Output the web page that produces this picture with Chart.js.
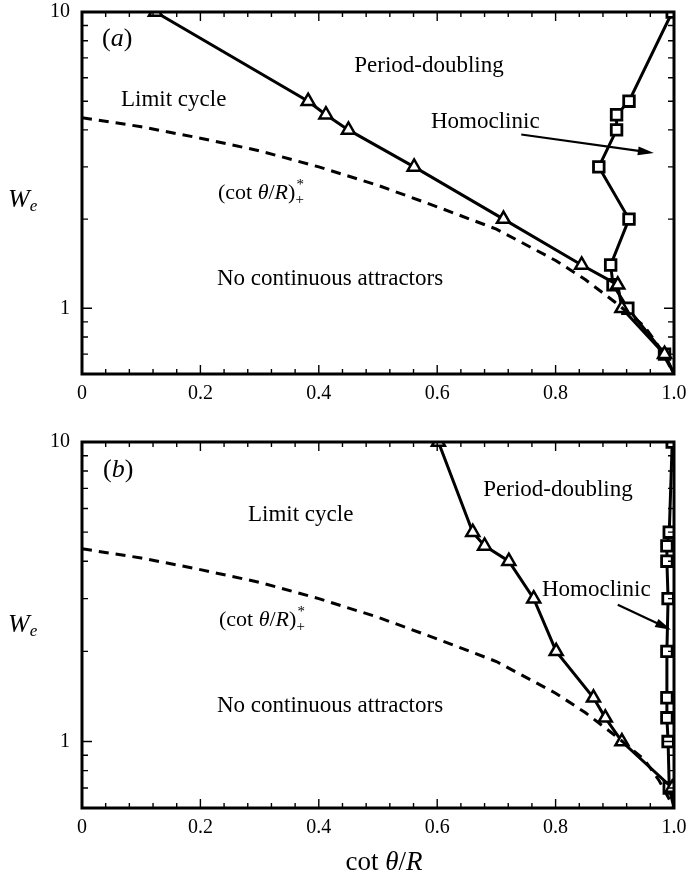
<!DOCTYPE html>
<html>
<head>
<meta charset="utf-8">
<script src="https://cdn.jsdelivr.net/npm/chart.js@4.4.0/dist/chart.umd.min.js"></script>
<style>
  html, body { margin: 0; padding: 0; background: #fff; }
  #wrap { position: relative; width: 691px; height: 874px; }
  .panel { position: absolute; left: 0; }
</style>
</head>
<body>
<div id="wrap">
  <canvas id="chartA" class="panel" width="691" height="420" style="top:0"></canvas>
  <canvas id="chartB" class="panel" width="691" height="454" style="top:420px"></canvas>
</div>
<script>
// W_e levels used in both panels (log axis)
const weLevels = [10, 5, 4.5, 4, 3, 2, 1.4, 1.2, 1, 0.7];

// panel (a): cot(theta)/R of each boundary point
const triXA = [0.124, 0.382, 0.412, 0.45, 0.561, 0.712, 0.844, 0.905, 0.912, 0.984];
const sqXA  = [0.997, 0.924, 0.903, 0.903, 0.873, 0.924, 0.893, 0.897, 0.922, 0.984];

// panel (b)
const triXB = [0.602, 0.66, 0.68, 0.721, 0.763, 0.801, 0.864, 0.884, 0.912, 0.997];
const sqXB  = [0.997, 0.992, 0.988, 0.988, 0.99, 0.988, 0.988, 0.988, 0.99, 0.992];

// both boundary lines run into the lower right corner
const cornerX = 1.0;
const cornerY = 0.6;

// dashed curve (cot theta/R)*_+
const dashX = [0, 0.1, 0.2, 0.3, 0.4, 0.5, 0.6, 0.7, 0.8, 0.85, 0.9, 0.95, 0.975, 1.0];
const dashY = [4.4, 4.1, 3.75, 3.4, 3.0, 2.6, 2.2, 1.85, 1.45, 1.25, 1.05, 0.87, 0.74, 0.6];

// axis ticks
const xTickVals = [];
for (let i = 0; i <= 25; i++) xTickVals.push(+(i * 0.04).toFixed(2));
const xLabelVals = [0, 0.2, 0.4, 0.6, 0.8, 1.0];
const yTickVals = [0.7, 0.8, 0.9, 1, 2, 3, 4, 5, 6, 7, 8, 9, 10];
const yLabelVals = [1, 10];

// "Homoclinic" arrows (data coords: from -> to)
const arrowA = [0.742, 3.86, 0.966, 3.34];
const arrowB = [0.905, 2.86, 0.995, 2.36];

const SERIF = '"Liberation Serif", "Times New Roman", serif';

function pts(xs, ys) {
  const out = xs.map((x, i) => ({ x: x, y: ys[i] }));
  out.push({ x: cornerX, y: cornerY });
  return out;
}

function fontOf(p, base) {
  return (p.it ? 'italic ' : '') + (p.s || base) + 'px ' + SERIF;
}

function drawRich(ctx, x, y, parts, base, align) {
  let w = 0;
  parts.forEach(p => {
    ctx.font = fontOf(p, base);
    if (!p.stack) w += ctx.measureText(p.t).width;
  });
  let cx = align === 'center' ? x - w / 2 : x;
  ctx.textAlign = 'left';
  ctx.textBaseline = 'middle';
  parts.forEach(p => {
    ctx.font = fontOf(p, base);
    ctx.fillText(p.t, cx + (p.dx || 0), y + (p.dy || 0));
    if (!p.stack) cx += ctx.measureText(p.t).width;
  });
}

const cotLabel = [
  { t: '(cot ' }, { t: 'θ', it: true }, { t: '/' }, { t: 'R', it: true }, { t: ')' },
  { t: '*', s: 15, dy: -8, stack: true, dx: 1 }, { t: '+', s: 15, dy: 7 }
];
const weLabel = [{ t: 'W', it: true, s: 26 }, { t: 'e', it: true, s: 17, dy: 7 }];

// frame, inward ticks, arrow and text labels
const decorPlugin = {
  id: 'decor',
  afterDraw(chart, args, opts) {
    const ctx = chart.ctx;
    const a = chart.chartArea;
    const xs = chart.scales.x, ys = chart.scales.y;
    ctx.save();
    ctx.strokeStyle = '#000';
    ctx.fillStyle = '#000';

    ctx.lineWidth = 1.4;
    xTickVals.forEach(v => {
      const px = xs.getPixelForValue(v);
      const len = xLabelVals.includes(v) ? 9 : 5;
      ctx.beginPath();
      ctx.moveTo(px, a.bottom); ctx.lineTo(px, a.bottom - len);
      ctx.moveTo(px, a.top); ctx.lineTo(px, a.top + len);
      ctx.stroke();
    });
    yTickVals.forEach(v => {
      const py = ys.getPixelForValue(v);
      const len = yLabelVals.includes(v) ? 10 : 6;
      ctx.beginPath();
      ctx.moveTo(a.left, py); ctx.lineTo(a.left + len, py);
      ctx.moveTo(a.right, py); ctx.lineTo(a.right - len, py);
      ctx.stroke();
    });

    ctx.lineWidth = 3;
    ctx.strokeRect(a.left, a.top, a.right - a.left, a.bottom - a.top);

    // arrow
    const ar = opts.arrow;
    const x1 = xs.getPixelForValue(ar[0]), y1 = ys.getPixelForValue(ar[1]);
    const x2 = xs.getPixelForValue(ar[2]), y2 = ys.getPixelForValue(ar[3]);
    const ang = Math.atan2(y2 - y1, x2 - x1);
    ctx.lineWidth = 2.2;
    ctx.beginPath();
    ctx.moveTo(x1, y1);
    ctx.lineTo(x2 - 10 * Math.cos(ang), y2 - 10 * Math.sin(ang));
    ctx.stroke();
    ctx.beginPath();
    ctx.moveTo(x2, y2);
    ctx.lineTo(x2 - 16 * Math.cos(ang) + 4.5 * Math.sin(ang), y2 - 16 * Math.sin(ang) - 4.5 * Math.cos(ang));
    ctx.lineTo(x2 - 16 * Math.cos(ang) - 4.5 * Math.sin(ang), y2 - 16 * Math.sin(ang) + 4.5 * Math.cos(ang));
    ctx.closePath();
    ctx.fill();

    opts.texts.forEach(tx => drawRich(ctx, tx.x, tx.y, tx.parts, tx.size || 23, tx.align));
    ctx.restore();
  }
};

function makePanel(id, triX, sqX, top, xHeight, arrow, texts) {
  const last = weLevels.length;
  return new Chart(document.getElementById(id), {
    type: 'scatter',
    data: {
      datasets: [
        {
          label: 'dash',
          data: dashX.map((x, i) => ({ x: x, y: dashY[i] })),
          showLine: true,
          borderColor: '#000',
          borderWidth: 3,
          borderDash: [10, 7],
          pointRadius: 0
        },
        {
          label: 'triangles',
          data: pts(triX, weLevels),
          showLine: true,
          borderColor: '#000',
          borderWidth: 3,
          pointStyle: 'triangle',
          pointRadius: c => c.dataIndex === last ? 0 : 7.5,
          pointBackgroundColor: '#fff',
          pointBorderColor: '#000',
          pointBorderWidth: 2.5
        },
        {
          label: 'squares',
          data: pts(sqX, weLevels),
          showLine: true,
          borderColor: '#000',
          borderWidth: 3,
          pointStyle: 'rect',
          pointRadius: c => c.dataIndex === last ? 0 : 7.5,
          pointBackgroundColor: '#fff',
          pointBorderColor: '#000',
          pointBorderWidth: 2.8
        }
      ]
    },
    options: {
      responsive: false,
      animation: false,
      layout: { padding: { left: 0, right: 17, top: top, bottom: 0 } },
      plugins: {
        legend: { display: false },
        tooltip: { enabled: false },
        decor: { arrow: arrow, texts: texts }
      },
      scales: {
        x: {
          type: 'linear',
          min: 0,
          max: 1,
          grid: { display: false, drawTicks: false },
          border: { display: false },
          afterBuildTicks: s => { s.ticks = xLabelVals.map(v => ({ value: v })); },
          afterFit: s => { s.height = xHeight; s.paddingLeft = 0; s.paddingRight = 0; },
          ticks: {
            autoSkip: false,
            maxRotation: 0,
            padding: 8,
            color: '#000',
            font: { family: SERIF, size: 20 },
            callback: v => v === 0 ? '0' : v.toFixed(1)
          }
        },
        y: {
          type: 'logarithmic',
          min: cornerY,
          max: 10,
          grid: { display: false, drawTicks: false },
          border: { display: false },
          afterBuildTicks: s => { s.ticks = yLabelVals.map(v => ({ value: v })); },
          afterFit: s => { s.width = 82; s.paddingTop = 0; s.paddingBottom = 0; },
          ticks: {
            padding: 12,
            color: '#000',
            font: { family: SERIF, size: 20 },
            callback: v => String(v)
          }
        }
      }
    },
    plugins: [decorPlugin]
  });
}

makePanel('chartA', triXA, sqXA, 12, 420 - 374, arrowA, [
  { x: 102, y: 39, size: 26, align: 'left', parts: [{ t: '(' }, { t: 'a', it: true }, { t: ')' }] },
  { x: 429, y: 66, align: 'center', parts: [{ t: 'Period-doubling' }] },
  { x: 121, y: 100, align: 'left', parts: [{ t: 'Limit cycle' }] },
  { x: 431, y: 122, align: 'left', parts: [{ t: 'Homoclinic' }] },
  { x: 218, y: 193, size: 22, align: 'left', parts: cotLabel },
  { x: 217, y: 279, align: 'left', parts: [{ t: 'No continuous attractors' }] },
  { x: 8, y: 200, align: 'left', parts: weLabel }
]);

makePanel('chartB', triXB, sqXB, 22, 454 - 388, arrowB, [
  { x: 103, y: 50, size: 26, align: 'left', parts: [{ t: '(' }, { t: 'b', it: true }, { t: ')' }] },
  { x: 558, y: 70, align: 'center', parts: [{ t: 'Period-doubling' }] },
  { x: 248, y: 95, align: 'left', parts: [{ t: 'Limit cycle' }] },
  { x: 542, y: 170, align: 'left', parts: [{ t: 'Homoclinic' }] },
  { x: 219, y: 200, size: 22, align: 'left', parts: cotLabel },
  { x: 217, y: 286, align: 'left', parts: [{ t: 'No continuous attractors' }] },
  { x: 8, y: 205, align: 'left', parts: weLabel },
  { x: 384, y: 443, size: 27, align: 'center', parts: [{ t: 'cot ' }, { t: 'θ', it: true }, { t: '/' }, { t: 'R', it: true }] }
]);
</script>
</body>
</html>
